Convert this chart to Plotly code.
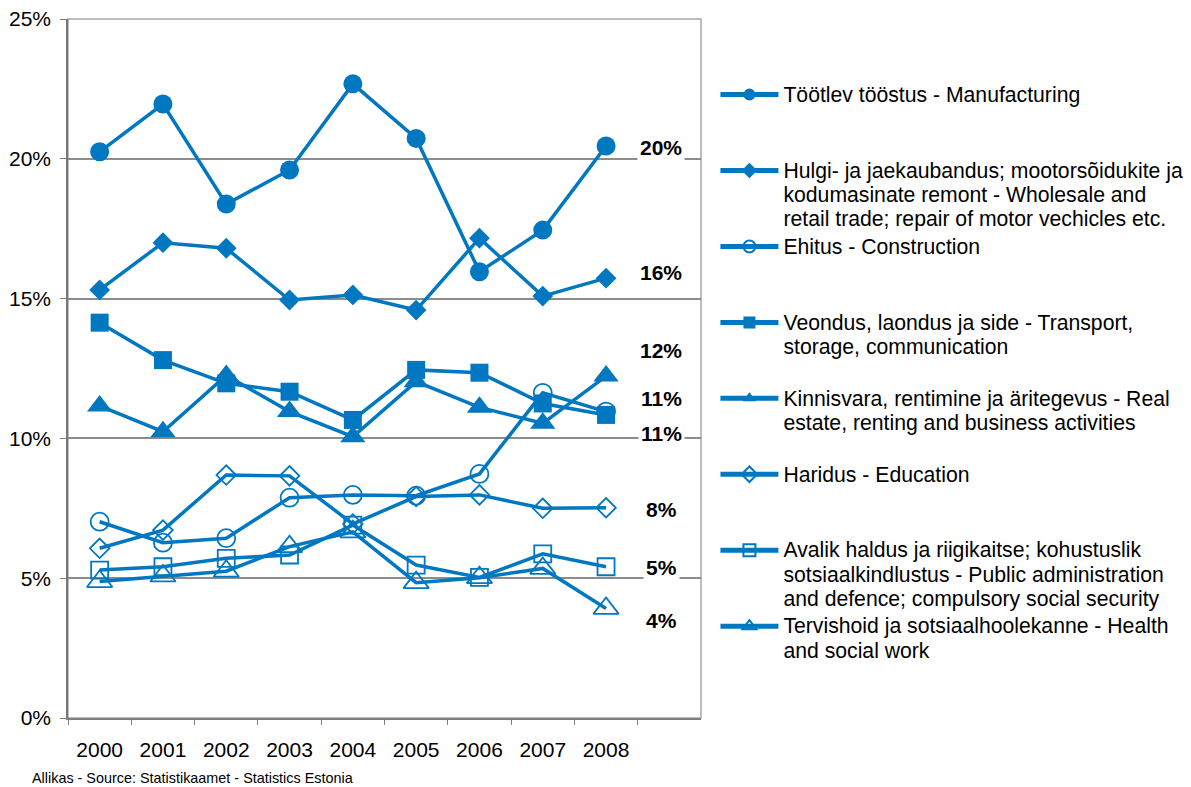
import plotly.graph_objects as go

years = ["2000", "2001", "2002", "2003", "2004", "2005", "2006", "2007", "2008"]

manufacturing = [20.25, 21.96, 18.38, 19.60, 22.68, 20.73, 15.96, 17.45, 20.46]
wholesale = [15.31, 17.00, 16.80, 14.95, 15.13, 14.59, 17.16, 15.09, 15.73]
construction = [7.02, 6.27, 6.43, 7.88, 7.98, 7.95, 8.73, 11.63, 10.96]
transport = [14.14, 12.80, 11.97, 11.67, 10.66, 12.45, 12.35, 11.25, 10.84]
real_estate = [11.16, 10.24, 12.25, 10.96, 10.06, 12.03, 11.11, 10.54, 12.23]
education = [6.07, 6.72, 8.69, 8.66, 6.94, 7.92, 7.98, 7.50, 7.52]
public_admin = [5.29, 5.41, 5.71, 5.83, 6.90, 5.47, 5.03, 5.87, 5.41]
health = [4.88, 5.08, 5.25, 6.13, 6.66, 4.84, 5.02, 5.35, 3.92]

names = [
    ["Töötlev tööstus - Manufacturing"],
    ["Hulgi- ja jaekaubandus; mootorsõidukite ja",
     "kodumasinate remont - Wholesale and",
     "retail trade; repair of motor vechicles etc."],
    ["Ehitus - Construction"],
    ["Veondus, laondus ja side - Transport,", "storage, communication"],
    ["Kinnisvara, rentimine ja äritegevus - Real",
     "estate, renting and business activities"],
    ["Haridus - Education"],
    ["Avalik haldus ja riigikaitse; kohustuslik",
     "sotsiaalkindlustus - Public administration",
     "and defence; compulsory social security"],
    ["Tervishoid ja sotsiaalhoolekanne - Health", "and social work"],
]

series = [manufacturing, wholesale, construction, transport,
          real_estate, education, public_admin, health]

# style per series (symbol, size)
symbols = ["circle", "diamond", "circle-open", "square",
           "triangle-up", "diamond-open", "square-open", "triangle-up-open"]
msizes = [19, 16, 18, 18, 22, 15, 17, 22]

# end-label vertical positions (in axis units) for the value labels
label_pos = [20.39, 15.95, 11.41, 10.19, 13.16, 7.47, 5.40, 3.50]

BLUE = "#0077C1"
FONT = "Liberation Sans, Arial, sans-serif"


def legend_name(lines, total=3):
    parts = ['<span style="font-size:21.2px">%s</span>' % l for l in lines]
    parts += ["\u00a0"] * (total - len(lines))
    return "<br>".join(parts)


fig = go.Figure()
for vals, nm, sym, ms in zip(series, names, symbols, msizes):
    is_open = sym.endswith("open")
    fig.add_trace(go.Scatter(
        x=years, y=vals, mode="lines+markers",
        name=legend_name(nm),
        line=dict(color=BLUE, width=3.5),
        marker=dict(symbol=sym, size=ms, color=BLUE,
                    line=dict(color=BLUE, width=1.8 if is_open else 0)),
        hoverinfo="skip",
    ))

last_idx = len(years) - 1
annotations = []
for vals, ly in zip(series, label_pos):
    annotations.append(dict(
        x=last_idx, y=ly, xref="x", yref="y", xshift=55,
        text="<b>%d%%</b>" % int(round(vals[-1])),
        showarrow=False, xanchor="center", yanchor="middle",
        font=dict(family=FONT, size=21, color="black"),
        bgcolor="white", borderpad=2,
    ))
annotations.append(dict(
    x=-0.06, y=-0.086, xref="paper", yref="paper",
    text="Allikas - Source: Statistikaamet - Statistics Estonia",
    showarrow=False, xanchor="left", yanchor="middle",
    font=dict(family=FONT, size=14.4, color="black"),
))

fig.update_layout(
    width=1205, height=779,
    margin=dict(l=60, r=512, t=11, b=69),
    paper_bgcolor="white", plot_bgcolor="white",
    font=dict(family=FONT, color="black"),
    showlegend=True,
    legend=dict(
        x=1.0228, y=0.9185, xanchor="left", yanchor="top",
        font=dict(family=FONT, size=18.7, color="black"),
        valign="top", itemsizing="constant", itemwidth=58,
        bgcolor="rgba(0,0,0,0)", tracegroupgap=0,
    ),
    annotations=annotations,
    shapes=[dict(type="rect", xref="paper", yref="paper", x0=0, x1=1, y0=0, y1=1,
                 line=dict(color="#a6a6a6", width=1.5), layer="below")],
)
fig.update_xaxes(
    type="category", range=[-0.5, 9.5], tickson="boundaries",
    ticks="outside", ticklen=5, tickcolor="#808080", tickwidth=1.2,
    showline=True, linecolor="#808080", linewidth=1.5,
    showgrid=False, zeroline=False, automargin=False,
    tickfont=dict(family=FONT, size=21, color="black"),
    ticklabelstandoff=12,
)
fig.update_yaxes(
    range=[0, 25], tickmode="array", tickvals=[0, 5, 10, 15, 20, 25],
    ticktext=["0%", "5%", "10%", "15%", "20%", "25%"],
    ticks="outside", ticklen=6, tickcolor="#808080", tickwidth=1.2,
    showline=True, linecolor="#777777", linewidth=1.5,
    showgrid=True, gridcolor="#8c8c8c", gridwidth=1.5, zeroline=False,
    automargin=False, ticklabeloverflow="allow",
    tickfont=dict(family=FONT, size=21, color="black"),
    ticklabelstandoff=5,
)

fig.write_html("out.html")
